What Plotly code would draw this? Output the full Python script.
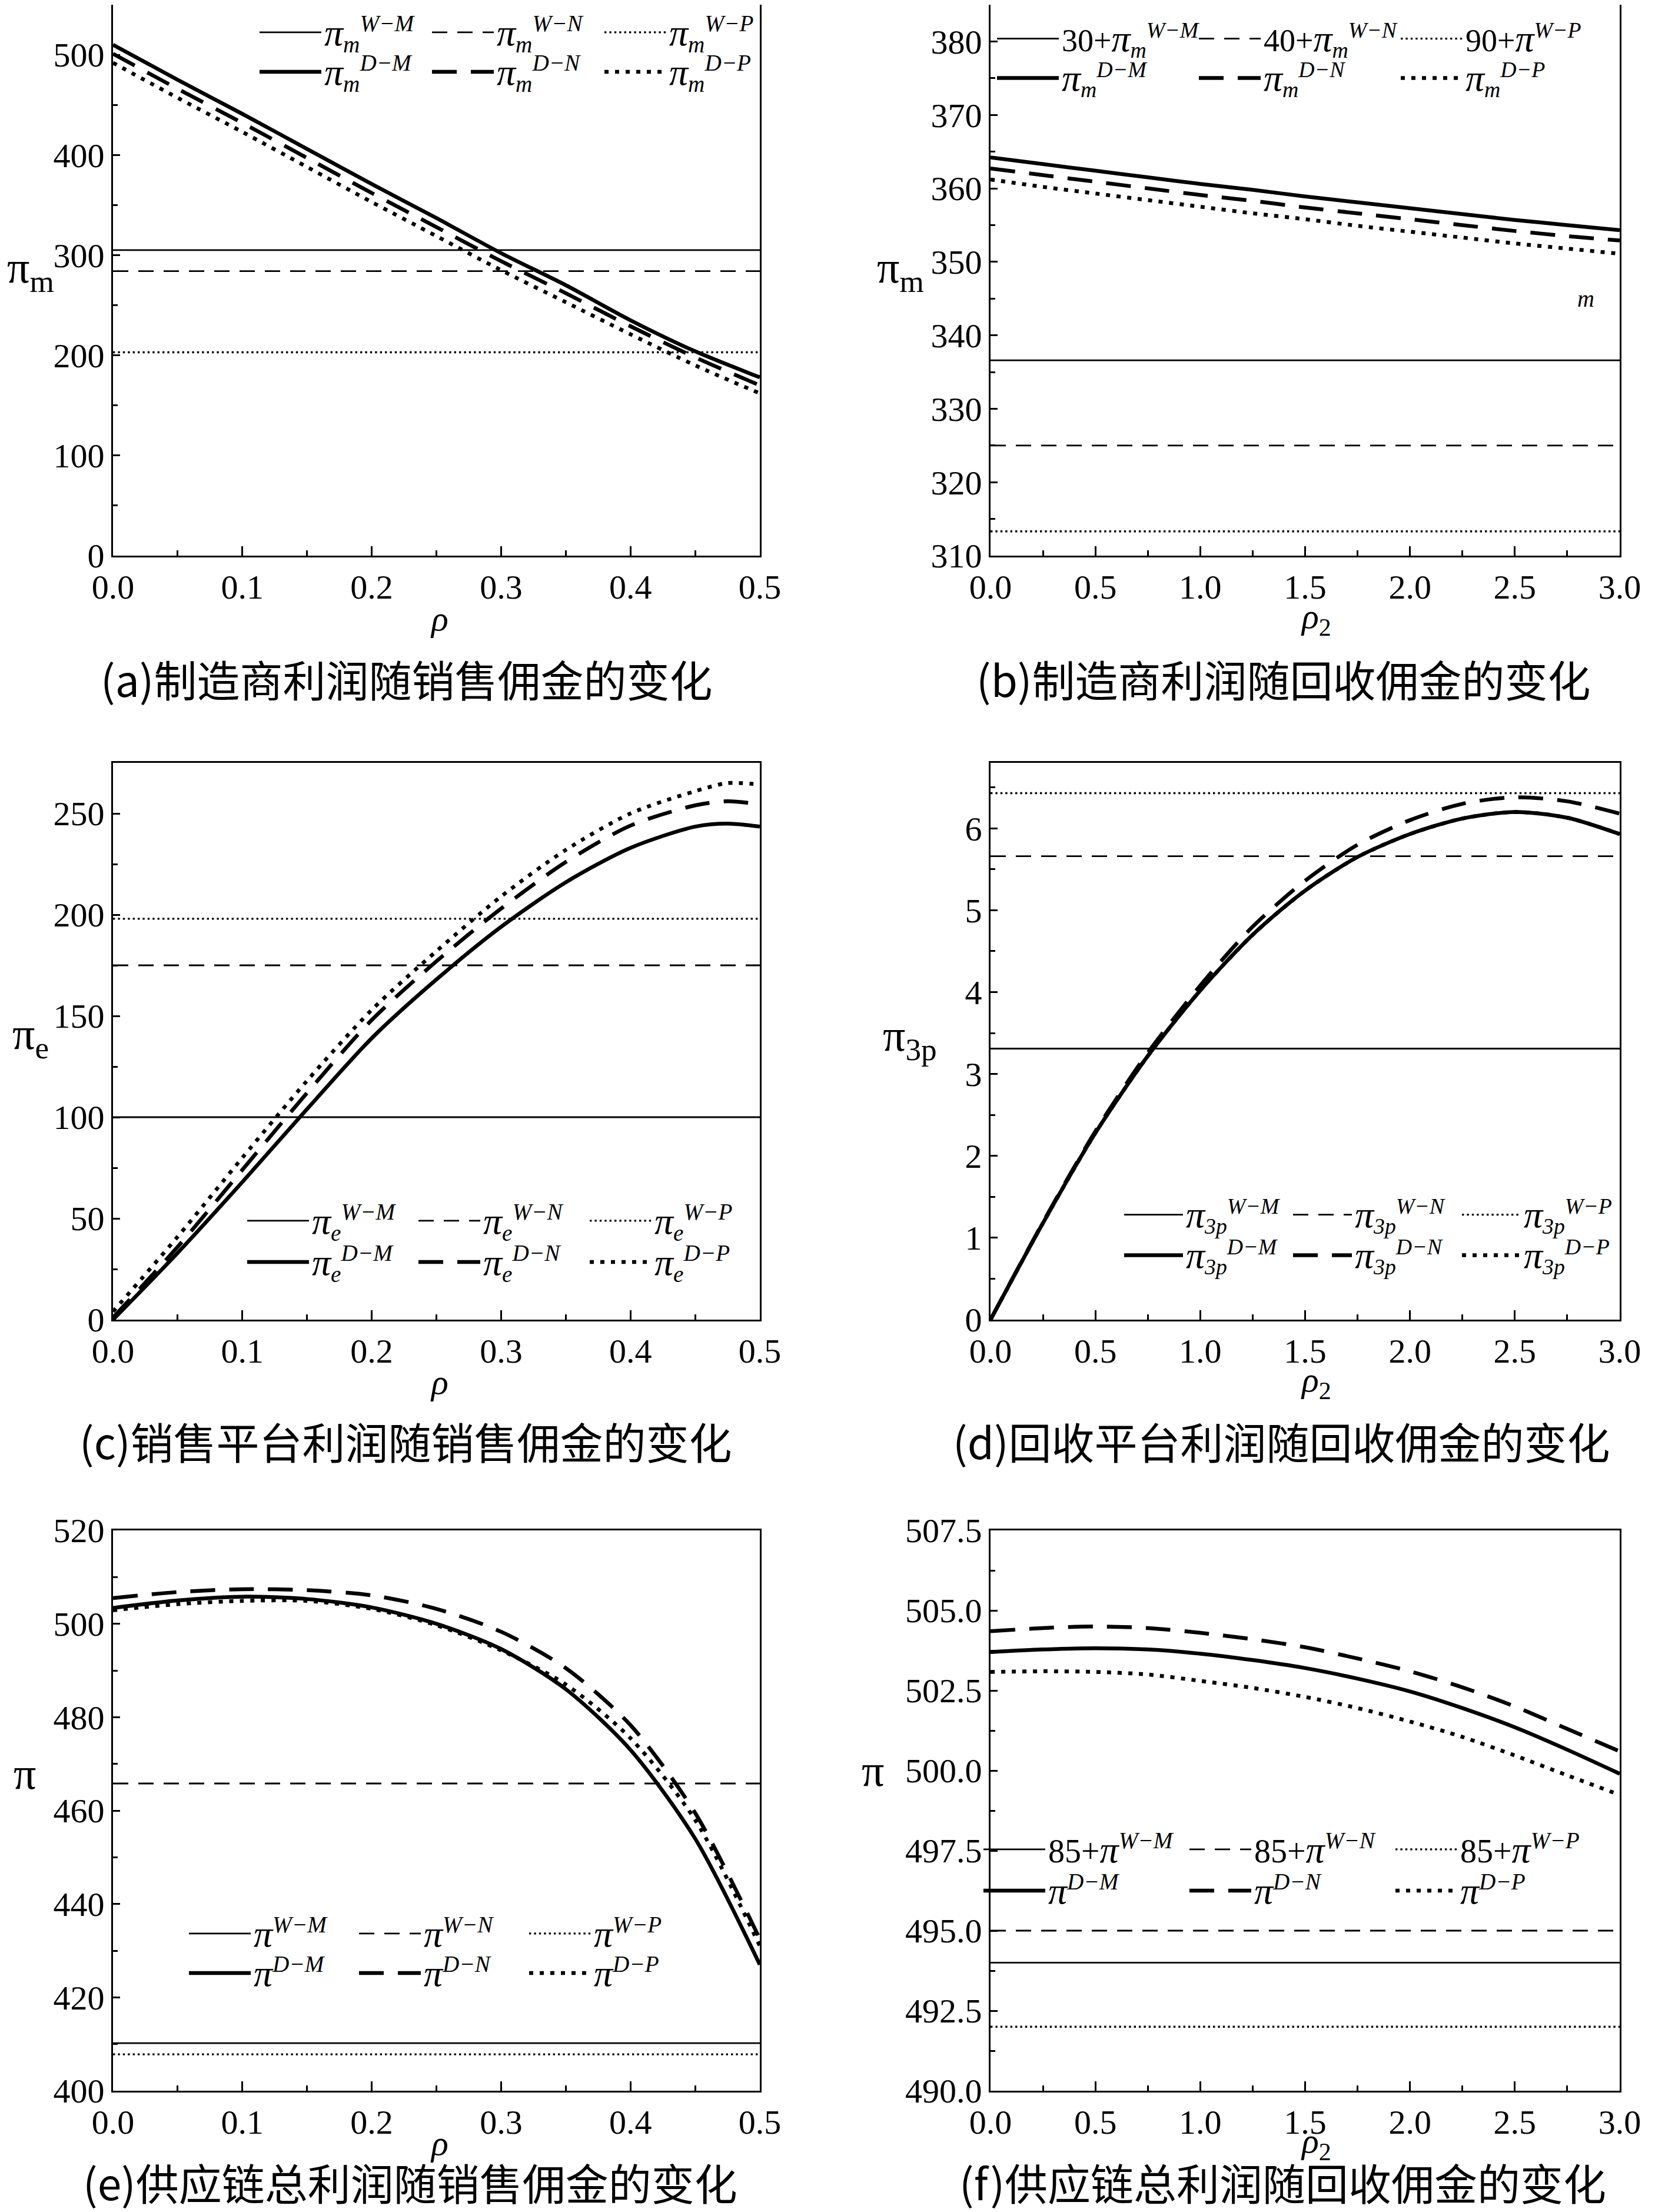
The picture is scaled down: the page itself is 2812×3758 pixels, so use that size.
import plotly.graph_objects as go

W, H = 2812, 3758
OFF = 8  # page offset of the figure inside the browser page (body margin)

# ---------------- data ----------------
rho = [0.0, 0.05, 0.10, 0.15, 0.20, 0.25, 0.30, 0.35, 0.40, 0.45, 0.50]
rho_c = [0.0, 0.05, 0.10, 0.15, 0.20, 0.25, 0.30, 0.35, 0.40, 0.45, 0.475, 0.50]
rho2 = [0.0, 0.25, 0.5, 0.75, 1.0, 1.25, 1.5, 1.75, 2.0, 2.25, 2.5, 2.75, 3.0]

# (a) manufacturer profit vs sales commission
a_DM = [510, 475, 441, 406, 371, 337, 302, 270, 235, 204, 178]
a_DN = [501, 466, 432, 397, 362, 328, 294, 262, 229, 198, 170]
a_DP = [492, 457, 423, 388, 353, 319, 285, 253, 221, 190, 162]
a_W = [305, 284, 203]          # W-M, W-N, W-P

# (b) manufacturer profit vs recycling commission
b_DM = [364.2, 363.3, 362.4, 361.5, 360.6, 359.8, 358.9, 358.1, 357.3, 356.5, 355.7, 355.0, 354.3]
b_DN = [362.7, 361.8, 360.9, 360.0, 359.1, 358.3, 357.4, 356.6, 355.8, 355.0, 354.2, 353.5, 352.9]
b_DP = [361.2, 360.2, 359.3, 358.4, 357.5, 356.6, 355.8, 354.9, 354.1, 353.3, 352.5, 351.8, 351.1]
b_W = [336.6, 325.0, 313.3]

# (c) sales platform profit vs sales commission
c_DM = [0, 33, 68, 104, 139, 168, 194, 216, 233, 243.5, 245, 243.5]
c_DN = [1, 36, 74, 112, 148, 177, 203, 226, 244, 254, 256, 254.5]
c_DP = [4, 41, 80, 118, 153, 182, 209, 232, 250, 261, 265, 264.3]
c_W = [100, 175, 198]

# (d) recycling platform profit vs recycling commission
d_DM = [0, 1.18, 2.28, 3.22, 4.02, 4.70, 5.24, 5.65, 5.93, 6.12, 6.20, 6.13, 5.93]
d_DN = [0, 1.19, 2.30, 3.26, 4.08, 4.80, 5.36, 5.80, 6.10, 6.30, 6.38, 6.33, 6.18]
d_DP = [0, 1.18, 2.28, 3.22, 4.02, 4.70, 5.24, 5.65, 5.93, 6.12, 6.20, 6.13, 5.93]
d_W = [3.31, 5.66, 6.43]

# (e) total supply chain profit vs sales commission
e_DM = [503.4, 505.0, 505.8, 505.3, 503.5, 500.0, 494.6, 486.0, 473.0, 454.0, 427.0]
e_DN = [505.5, 506.8, 507.4, 507.2, 506.1, 503.2, 498.3, 490.5, 478.3, 459.5, 432.5]
e_DP = [502.9, 504.2, 504.9, 504.9, 503.2, 499.7, 494.3, 487.0, 475.5, 458.0, 431.0]
e_W = [410.2, 465.8, 407.8]

# (f) total supply chain profit vs recycling commission
f_DM = [503.70, 503.78, 503.82, 503.78, 503.65, 503.45, 503.20, 502.87, 502.47, 501.95, 501.35, 500.65, 499.90]
f_DN = [504.35, 504.45, 504.50, 504.45, 504.30, 504.10, 503.85, 503.50, 503.10, 502.60, 502.00, 501.30, 500.60]
f_DP = [503.08, 503.10, 503.08, 503.00, 502.80, 502.58, 502.30, 501.95, 501.53, 501.05, 500.47, 499.85, 499.24]
f_W = [494.0, 495.0, 492.0]

# ticks
x_rho_vals = [0.0, 0.1, 0.2, 0.3, 0.4, 0.5]
x_rho_text = ["0.0", "0.1", "0.2", "0.3", "0.4", "0.5"]
x_rho2_vals = [0.0, 0.5, 1.0, 1.5, 2.0, 2.5, 3.0]
x_rho2_text = ["0.0", "0.5", "1.0", "1.5", "2.0", "2.5", "3.0"]
a_yvals = [0, 100, 200, 300, 400, 500]
a_ytext = ["0", "100", "200", "300", "400", "500"]
b_yvals = [310, 320, 330, 340, 350, 360, 370, 380]
b_ytext = ["310", "320", "330", "340", "350", "360", "370", "380"]
c_yvals = [0, 50, 100, 150, 200, 250]
c_ytext = ["0", "50", "100", "150", "200", "250"]
d_yvals = [0, 1, 2, 3, 4, 5, 6]
d_ytext = ["0", "1", "2", "3", "4", "5", "6"]
e_yvals = [400, 420, 440, 460, 480, 500, 520]
e_ytext = ["400", "420", "440", "460", "480", "500", "520"]
f_yvals = [490.0, 492.5, 495.0, 497.5, 500.0, 502.5, 505.0, 507.5]
f_ytext = ["490.0", "492.5", "495.0", "497.5", "500.0", "502.5", "505.0", "507.5"]

captions = ["(a)制造商利润随销售佣金的变化", "(b)制造商利润随回收佣金的变化",
            "(c)销售平台利润随销售佣金的变化", "(d)回收平台利润随回收佣金的变化",
            "(e)供应链总利润随销售佣金的变化", "(f)供应链总利润随回收佣金的变化"]

# ---------------- styles / layout helpers ----------------
SERIF = "Liberation Serif"
CJK = "Noto Sans CJK SC"
styles = {
    "W-M": dict(width=2.8, dash="solid"),
    "W-N": dict(width=2.8, dash="26px,17px"),
    "W-P": dict(width=3.4, dash="3.4px,5px"),
    "D-M": dict(width=6.5, dash="solid"),
    "D-N": dict(width=6.5, dash="42px,24px"),
    "D-P": dict(width=6.5, dash="7px,11px"),
}

def px(x):
    return min(max((x - OFF) / W, 0.0), 1.0)

def py(y):
    return min(max(1 - (y - OFF) / H, 0.0), 1.0)

cols = [(192, 1291), (1683, 2752)]
rows = [(2, 944), (1296, 2242), (2600, 3552)]

PI = '<span style="font-size:64px">π</span>'


def lab(sub, sup, pre=""):
    s = "<sub>%s</sub>" % sub if sub else ""
    return "%s<i>%s%s<sup>%s</sup></i>" % (pre, PI, s, sup)


# leg = (x of first item, row1 y, row2 y, entry width, font size, symbol width)
panels = [
    dict(x=rho, D=[a_DM, a_DN, a_DP], Wv=a_W, xr=[0, 0.5], yr=[0, 550],
         xt=(x_rho_vals, x_rho_text), yt=(a_yvals, a_ytext), xminor=0.05, yminor=50, y0=0,
         labW=[lab("m", "W−M"), lab("m", "W−N"), lab("m", "W−P")],
         labD=[lab("m", "D−M"), lab("m", "D−N"), lab("m", "D−P")],
         leg=(436, 55, 122, 173, 56, 105), ytitle=("π<sub>m</sub>", 52, 460), xtitle=("<i>ρ</i>", 746, 1051),
         cap=(690, 1152)),
    dict(x=rho2, D=[b_DM, b_DN, b_DP], Wv=b_W, xr=[0, 3], yr=[310, 385],
         xt=(x_rho2_vals, x_rho2_text), yt=(b_yvals, b_ytext), xminor=0.25, yminor=5, y0=310,
         labW=[lab("m", "W−M", "30+"), lab("m", "W−N", "40+"), lab("", "W−P", "90+")],
         labD=[lab("m", "D−M"), lab("m", "D−N"), lab("m", "D−P")],
         leg=(1689, 66, 133, 223, 54, 105), ytitle=("π<sub>m</sub>", 1530, 460), xtitle=("<i>ρ</i><sub>2</sub>", 2236, 1051),
         cap=(2180, 1152)),
    dict(x=rho_c, D=[c_DM, c_DN, c_DP], Wv=c_W, xr=[0, 0.5], yr=[0, 275],
         xt=(x_rho_vals, x_rho_text), yt=(c_yvals, c_ytext), xminor=0.05, yminor=25, y0=0,
         labW=[lab("e", "W−M"), lab("e", "W−N"), lab("e", "W−P")],
         labD=[lab("e", "D−M"), lab("e", "D−N"), lab("e", "D−P")],
         leg=(415, 2074, 2144, 171, 56, 105), ytitle=("π<sub>e</sub>", 52, 1762), xtitle=("<i>ρ</i>", 746, 2348),
         cap=(689, 2447)),
    dict(x=rho2, D=[d_DM, d_DN, d_DP], Wv=d_W, xr=[0, 3], yr=[0, 6.8],
         xt=(x_rho2_vals, x_rho2_text), yt=(d_yvals, d_ytext), xminor=0.25, yminor=0.5, y0=0,
         labW=[lab("3p", "W−M"), lab("3p", "W−N"), lab("3p", "W−P")],
         labD=[lab("3p", "D−M"), lab("3p", "D−N"), lab("3p", "D−P")],
         leg=(1905, 2064, 2133, 172, 54, 100), ytitle=("π<sub>3p</sub>", 1546, 1765), xtitle=("<i>ρ</i><sub>2</sub>", 2236, 2348),
         cap=(2177, 2447)),
    dict(x=rho, D=[e_DM, e_DN, e_DP], Wv=e_W, xr=[0, 0.5], yr=[400, 520],
         xt=(x_rho_vals, x_rho_text), yt=(e_yvals, e_ytext), xminor=0.05, yminor=10, y0=400,
         labW=[lab("", "W−M"), lab("", "W−N"), lab("", "W−P")],
         labD=[lab("", "D−M"), lab("", "D−N"), lab("", "D−P")],
         leg=(316, 3285, 3352, 169, 56, 105), ytitle=("π", 42, 3013), xtitle=("<i>ρ</i>", 746, 3641),
         cap=(697, 3706)),
    dict(x=rho2, D=[f_DM, f_DN, f_DP], Wv=f_W, xr=[0, 3], yr=[490, 507.5],
         xt=(x_rho2_vals, x_rho2_text), yt=(f_yvals, f_ytext), xminor=0.25, yminor=1.25, y0=490,
         labW=[lab("", "W−M", "85+"), lab("", "W−N", "85+"), lab("", "W−P", "85+")],
         labD=[lab("", "D−M"), lab("", "D−N"), lab("", "D−P")],
         leg=(1666, 3142, 3212, 230, 56, 105), ytitle=("π", 1483, 3008), xtitle=("<i>ρ</i><sub>2</sub>", 2236, 3641),
         cap=(2179, 3706)),
]

fig = go.Figure()
layout = dict(width=W, height=H, margin=dict(l=0, r=0, t=0, b=0, autoexpand=False),
              paper_bgcolor="white", plot_bgcolor="white", showlegend=True,
              font=dict(family=SERIF, color="black", size=58))
annotations = []
keysW = ["W-M", "W-N", "W-P"]
keysD = ["D-M", "D-N", "D-P"]

for i, p in enumerate(panels):
    n = i + 1
    xa = "x" if n == 1 else "x%d" % n
    ya = "y" if n == 1 else "y%d" % n
    legW = "legend" if n == 1 else "legend%d" % (2 * n - 1)
    legD = "legend%d" % (2 * n)
    # horizontal W lines
    for k, v, name in zip(keysW, p["Wv"], p["labW"]):
        fig.add_trace(go.Scatter(x=p["xr"], y=[v, v], mode="lines", name=name,
                                 line=dict(color="black", **styles[k]),
                                 xaxis=xa, yaxis=ya, legend=legW, hoverinfo="skip"))
    # D curves
    for k, ys, name in zip(keysD, p["D"], p["labD"]):
        fig.add_trace(go.Scatter(x=p["x"], y=ys, mode="lines", name=name,
                                 line=dict(color="black", shape="spline", smoothing=0.8, **styles[k]),
                                 xaxis=xa, yaxis=ya, legend=legD, hoverinfo="skip"))
    c0, c1 = cols[i % 2]
    r0, r1 = rows[i // 2]
    axis_common = dict(showline=True, linewidth=3, linecolor="black", mirror=True,
                       showgrid=False, zeroline=False, ticks="inside", tickcolor="black",
                       tickwidth=2.5, tickfont=dict(family=SERIF, size=58, color="black"),
                       tickmode="array", automargin=False)
    layout["xaxis" if n == 1 else "xaxis%d" % n] = dict(
        domain=[px(c0), px(c1)], anchor=ya, range=p["xr"], tickvals=p["xt"][0], ticktext=p["xt"][1],
        ticklen=16, minor=dict(ticks="inside", tickmode="linear", tick0=0, dtick=p["xminor"],
                               ticklen=9, tickwidth=2.5, tickcolor="black"),
        **axis_common)
    layout["yaxis" if n == 1 else "yaxis%d" % n] = dict(
        domain=[py(r1), py(r0)], anchor=xa, range=p["yr"], tickvals=p["yt"][0], ticktext=p["yt"][1],
        ticklen=12, minor=dict(ticks="inside", tickmode="linear", tick0=p["y0"], dtick=p["yminor"],
                               ticklen=8, tickwidth=2.5, tickcolor="black"),
        **axis_common)
    lx, ly1, ly2, ew, fs, iw = p["leg"]
    for lname, ly in ((legW, ly1), (legD, ly2)):
        layout[lname] = dict(x=px(lx), y=py(ly), xanchor="left", yanchor="middle", orientation="h",
                             bgcolor="rgba(0,0,0,0)", borderwidth=0, itemwidth=iw,
                             entrywidth=ew, entrywidthmode="pixels", traceorder="normal",
                             font=dict(family=SERIF, size=fs, color="black"), tracegroupgap=0)
    t, tx, ty = p["ytitle"]
    annotations.append(dict(text=t, x=px(tx), y=py(ty), xref="paper", yref="paper", showarrow=False,
                            xanchor="center", yanchor="middle", font=dict(family=SERIF, size=76, color="black")))
    t, tx, ty = p["xtitle"]
    annotations.append(dict(text=t, x=px(tx), y=py(ty), xref="paper", yref="paper", showarrow=False,
                            xanchor="center", yanchor="middle", font=dict(family=SERIF, size=60, color="black")))
    cx, cy = p["cap"]
    annotations.append(dict(text=captions[i], x=px(cx), y=py(cy), xref="paper", yref="paper", showarrow=False,
                            xanchor="center", yanchor="middle", font=dict(family=CJK, size=73, color="black")))

# stray italic "m" left in panel (b)
annotations.append(dict(text="<i>m</i>", x=2.84, y=345, xref="x2", yref="y2", showarrow=False,
                        font=dict(family=SERIF, size=40, color="black")))
layout["annotations"] = annotations
fig.update_layout(**layout)
fig.write_html("out.html")
